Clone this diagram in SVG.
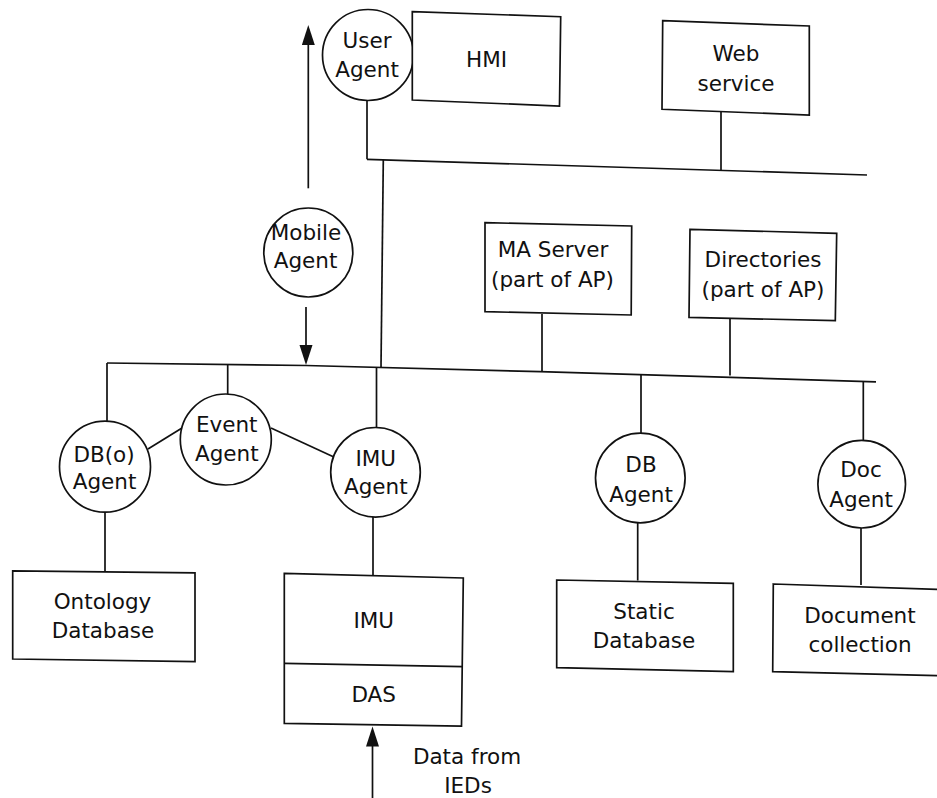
<svg xmlns="http://www.w3.org/2000/svg" width="937" height="798" viewBox="0 0 937 798">
  <style>
    .box { fill: #ffffff; stroke: #111111; stroke-width: 1.7; stroke-linejoin: miter; }
    .agent { fill: #ffffff; stroke: #111111; stroke-width: 1.7; }
    .wire { fill: none; stroke: #111111; stroke-width: 1.7; }
    .lbl { font-family: "DejaVu Sans", "Liberation Sans", sans-serif; font-size: 21.5px; fill: #111111; text-anchor: middle; }
  </style>
  <defs>
    <marker id="head" markerUnits="userSpaceOnUse" markerWidth="22" markerHeight="14" refX="16" refY="6.5" orient="auto">
      <path d="M0,0 L20,6.5 L0,13 z" fill="#111111"/>
    </marker>
  </defs>
  <rect width="937" height="798" fill="#ffffff"/>

  <!-- connectors: buses, drops and data flows -->
  <g id="connectors">
    <!-- upper bus -->
    <polyline class="wire" points="367,159.3 867,175"/>
    <line class="wire" x1="367" y1="100" x2="367" y2="159.3"/>
    <line class="wire" x1="721" y1="111.5" x2="721" y2="170.2"/>
    <!-- trunk between the buses -->
    <line class="wire" x1="383.3" y1="160" x2="381" y2="367.5"/>
    <!-- lower bus -->
    <polyline class="wire" points="107,363 306,365.5 540,371.7 876,381.8"/>
    <line class="wire" x1="542" y1="314" x2="542" y2="371.8"/>
    <line class="wire" x1="730" y1="318.5" x2="730" y2="375.6"/>
    <line class="wire" x1="107" y1="363" x2="107" y2="421.5"/>
    <line class="wire" x1="227.7" y1="364.2" x2="227.7" y2="394"/>
    <line class="wire" x1="376.5" y1="367.3" x2="376.5" y2="427.5"/>
    <line class="wire" x1="641" y1="374.6" x2="641" y2="433"/>
    <line class="wire" x1="863.3" y1="381.4" x2="863.3" y2="440.5"/>
    <!-- agent to agent links -->
    <line class="wire" x1="148" y1="449" x2="182" y2="428"/>
    <line class="wire" x1="271" y1="428" x2="333.3" y2="456.7"/>
    <!-- agent to store drops -->
    <line class="wire" x1="105" y1="512" x2="105" y2="571"/>
    <line class="wire" x1="373" y1="517" x2="373" y2="575"/>
    <line class="wire" x1="637.7" y1="523" x2="637.7" y2="580.5"/>
    <line class="wire" x1="861" y1="528" x2="861" y2="585"/>
    <!-- mobile agent migration arrows -->
    <line class="wire" x1="308.3" y1="188.3" x2="308.3" y2="29" marker-end="url(#head)"/>
    <line class="wire" x1="306" y1="307" x2="306" y2="361" marker-end="url(#head)"/>
    <!-- incoming IED data -->
    <line class="wire" x1="372.5" y1="798" x2="372.5" y2="730.5" marker-end="url(#head)"/>
  </g>

  <g id="user-agent">
    <circle class="agent" cx="368" cy="55" r="45.5"/>
    <text class="lbl" x="367" y="48">User</text>
    <text class="lbl" x="367" y="77">Agent</text>
  </g>

  <g id="hmi">
    <polygon class="box" points="412.3,11.7 560.7,16.7 559.5,106 412.3,100"/>
    <text class="lbl" x="486.5" y="66.5">HMI</text>
  </g>

  <g id="web-service">
    <polygon class="box" points="662.7,20.7 809.3,26 809.3,115 662,109.3"/>
    <text class="lbl" x="736" y="60.7">Web</text>
    <text class="lbl" x="736" y="90.7">service</text>
  </g>

  <g id="mobile-agent">
    <circle class="agent" cx="308.3" cy="252.5" r="44.5"/>
    <text class="lbl" x="306" y="240">Mobile</text>
    <text class="lbl" x="305.5" y="267.7">Agent</text>
  </g>

  <g id="ma-server">
    <polygon class="box" points="485,222.7 631.7,226 631.2,315 485,311.7"/>
    <text class="lbl" x="553" y="257.3">MA Server</text>
    <text class="lbl" x="552.5" y="287.3">(part of AP)</text>
  </g>

  <g id="directories">
    <polygon class="box" points="690,229.3 836.7,233.3 835.3,320.7 689,317.3"/>
    <text class="lbl" x="763" y="266.7">Directories</text>
    <text class="lbl" x="763" y="296.7">(part of AP)</text>
  </g>

  <g id="dbo-agent">
    <circle class="agent" cx="105" cy="466.7" r="45.5"/>
    <text class="lbl" x="104" y="461.7">DB(o)</text>
    <text class="lbl" x="104.5" y="489.3">Agent</text>
  </g>

  <g id="event-agent">
    <circle class="agent" cx="225.8" cy="439.5" r="45.5"/>
    <text class="lbl" x="226.7" y="431.7">Event</text>
    <text class="lbl" x="226.8" y="461">Agent</text>
  </g>

  <g id="imu-agent">
    <circle class="agent" cx="375.5" cy="472.3" r="44.8"/>
    <text class="lbl" x="375.8" y="465.7">IMU</text>
    <text class="lbl" x="375.8" y="494.3">Agent</text>
  </g>

  <g id="db-agent">
    <circle class="agent" cx="640.3" cy="478" r="44.8"/>
    <text class="lbl" x="641" y="471.7">DB</text>
    <text class="lbl" x="641" y="501.7">Agent</text>
  </g>

  <g id="doc-agent">
    <circle class="agent" cx="861.7" cy="484.2" r="43.8"/>
    <text class="lbl" x="861" y="477.3">Doc</text>
    <text class="lbl" x="861" y="506.7">Agent</text>
  </g>

  <g id="ontology-database">
    <polygon class="box" points="12.7,570.8 195,572.8 195,661.7 12.7,659"/>
    <text class="lbl" x="102.5" y="609">Ontology</text>
    <text class="lbl" x="103" y="638.3">Database</text>
  </g>

  <g id="imu-das">
    <polygon class="box" points="284.3,573.3 463.3,578 461.5,726.2 284.3,723.3"/>
    <line class="wire" x1="284.3" y1="663.3" x2="462.8" y2="666.7"/>
    <text class="lbl" x="373.7" y="628">IMU</text>
    <text class="lbl" x="373.7" y="701.7">DAS</text>
  </g>

  <g id="static-database">
    <polygon class="box" points="556.7,580 733.3,583.3 733.3,671.7 556.7,667.7"/>
    <text class="lbl" x="644" y="619">Static</text>
    <text class="lbl" x="644" y="648.3">Database</text>
  </g>

  <g id="document-collection">
    <polygon class="box" points="773.3,584 946,589.7 946,675.8 772.7,671.7"/>
    <text class="lbl" x="860" y="623.3">Document</text>
    <text class="lbl" x="860" y="651.7">collection</text>
  </g>

  <g id="ied-data-label">
    <text class="lbl" x="467" y="764">Data from</text>
    <text class="lbl" x="468" y="793.3">IEDs</text>
  </g>
</svg>
